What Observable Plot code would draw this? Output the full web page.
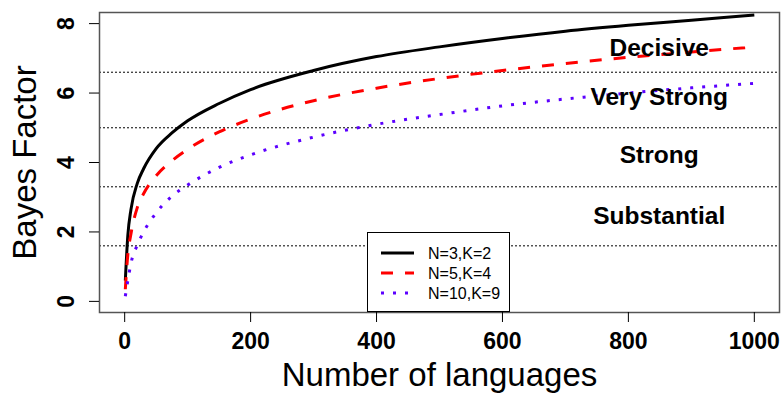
<!DOCTYPE html>
<html>
<head>
<meta charset="utf-8">
<script src="https://cdn.jsdelivr.net/npm/d3@7"></script>
<script src="https://cdn.jsdelivr.net/npm/@observablehq/plot@0.6"></script>
<style>
  html, body { margin: 0; padding: 0; background: #fff; }
  #wrap { position: relative; width: 781px; height: 393px; font-family: "Liberation Sans", Arial, sans-serif; }
  #legend { position: absolute; left: 367px; top: 232px; width: 143px; height: 80px; box-sizing: border-box; border: 1px solid #000; background: #fff; }
</style>
</head>
<body>
<div id="wrap"><div id="chart"></div><div id="legend"></div></div>
<script>
// ---- data ----
const nLanguages = [1, 5, 10, 20, 30, 50, 75, 100, 150, 200, 300, 400, 500, 600, 700, 800, 900, 1000];
const bfN3K2  = [0.60, 1.90, 2.65, 3.40, 3.82, 4.40, 4.85, 5.20, 5.70, 6.10, 6.65, 7.05, 7.33, 7.57, 7.78, 7.95, 8.10, 8.25];
const bfN5K4  = [0.35, 1.35, 1.95, 2.70, 3.10, 3.62, 4.05, 4.38, 4.88, 5.25, 5.78, 6.14, 6.42, 6.65, 6.85, 7.03, 7.18, 7.33];
const bfN10K9 = [0.15, 0.60, 1.10, 1.62, 2.00, 2.55, 3.03, 3.35, 3.86, 4.22, 4.73, 5.10, 5.38, 5.63, 5.83, 6.00, 6.15, 6.28];
const seriesNames = ["N=3,K=2", "N=5,K=4", "N=10,K=9"];
const thresholds = [1.6, 3.3, 5.0, 6.6];
const evidenceLabels = ["Substantial", "Strong", "Very Strong", "Decisive"];
const evidenceY = [2.45, 4.21, 5.87, 7.29];
const evidenceX = 849;
const xTicks = [0, 200, 400, 600, 800, 1000];
const yTicks = [0, 2, 4, 6, 8];

// ---- styles ----
const seriesStyle = [
  {color: "#000000", dash: null},
  {color: "#ff0000", dash: "12,12"},
  {color: "#5c00ff", dash: "3,9"}
];
const seriesValues = [bfN3K2, bfN5K4, bfN10K9];

const rows = [];
seriesValues.forEach((vals, s) => vals.forEach((v, i) => rows.push({series: seriesNames[s], n: nLanguages[i], bf: v})));
const labelRows = evidenceLabels.map((t, i) => ({text: t, x: evidenceX, y: evidenceY[i]}));

const lineMarks = seriesNames.map((name, s) =>
  Plot.line(rows.filter(d => d.series === name), {
    x: "n", y: "bf", curve: "monotone-x",
    stroke: seriesStyle[s].color, strokeWidth: 3,
    strokeDasharray: seriesStyle[s].dash, strokeLinecap: "butt"
  })
);

const chart = Plot.plot({
  width: 781,
  height: 393,
  marginLeft: 99,
  marginRight: 2,
  marginTop: 12,
  marginBottom: 81,
  style: {fontFamily: '"Liberation Sans", Arial, sans-serif', background: "#fff", color: "#000"},
  x: {domain: [-40, 1040]},
  y: {domain: [-0.32, 8.32]},
  marks: [
    Plot.ruleY(thresholds, {stroke: "#000", strokeWidth: 1, strokeDasharray: "2,2"}),
    ...lineMarks,
    Plot.text(labelRows, {x: "x", y: "y", text: "text", fontWeight: "bold", fontSize: 24.5, fill: "#000"}),
    Plot.frame({stroke: "#555", strokeWidth: 1.5}),
    Plot.axisX({ticks: xTicks, tickSize: 10, tickPadding: 10, fontSize: 23, fontWeight: "bold", label: null,
      tickFormat: d => String(d), stroke: "#000"}),
    Plot.axisY({ticks: yTicks, tickSize: 10, tickFormat: () => "", label: null}),
    Plot.text(yTicks, {y: d => d, text: d => String(d), frameAnchor: "left", rotate: -90, dx: -33,
      fontWeight: "bold", fontSize: 23, textAnchor: "middle", lineAnchor: "middle"}),
    Plot.text(["Bayes Factor"], {frameAnchor: "left", rotate: -90, dx: -74.5, fontSize: 33, textAnchor: "middle", lineAnchor: "middle"}),
    Plot.text(["Number of languages"], {frameAnchor: "bottom", dy: 63, fontSize: 33, textAnchor: "middle", lineAnchor: "middle"})
  ]
});
document.getElementById("chart").appendChild(chart);

// ---- legend (inside plot area, bottom) ----
const ns = "http://www.w3.org/2000/svg";
const lg = document.createElementNS(ns, "svg");
lg.setAttribute("width", 141);
lg.setAttribute("height", 78);
lg.style.display = "block";
seriesNames.forEach((name, i) => {
  const yy = 20 + i * 20;
  const ln = document.createElementNS(ns, "line");
  ln.setAttribute("x1", 13); ln.setAttribute("x2", 46);
  ln.setAttribute("y1", yy); ln.setAttribute("y2", yy);
  ln.setAttribute("stroke", seriesStyle[i].color);
  ln.setAttribute("stroke-width", 3);
  if (seriesStyle[i].dash) ln.setAttribute("stroke-dasharray", seriesStyle[i].dash);
  lg.appendChild(ln);
  const tx = document.createElementNS(ns, "text");
  tx.setAttribute("x", 60); tx.setAttribute("y", yy);
  tx.setAttribute("dy", "0.35em");
  tx.setAttribute("font-size", 16);
  tx.setAttribute("font-family", '"Liberation Sans", Arial, sans-serif');
  tx.textContent = name;
  lg.appendChild(tx);
});
document.getElementById("legend").appendChild(lg);
</script>
</body>
</html>
